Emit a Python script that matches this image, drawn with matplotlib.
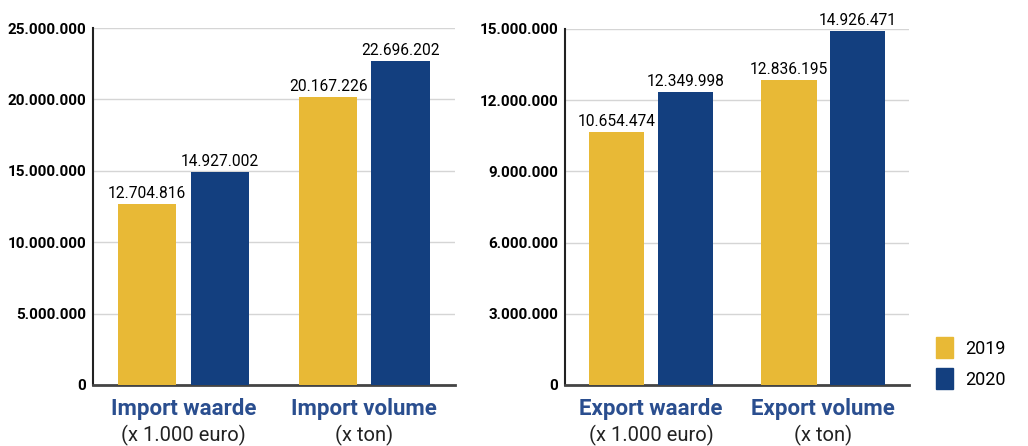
import matplotlib
matplotlib.use('Agg')
from matplotlib import pyplot as plt
from matplotlib.patches import Patch
import numpy as np

# data
import_cats = ['Import waarde', 'Import volume']
export_cats = ['Export waarde', 'Export volume']
units = ['(x 1.000 euro)', '(x ton)']
import_2019 = [12704816, 20167226]
import_2020 = [14927002, 22696202]
export_2019 = [10654474, 12836195]
export_2020 = [12349998, 14926471]
years = ['2019', '2020']

yellow = '#E8B936'
blue = '#133F7F'
label_blue = '#2A4E8F'

plt.rcParams['font.family'] = ['Roboto', 'DejaVu Sans']


def fmt(v):
    return '{:,}'.format(int(v)).replace(',', '.')


def draw_panel(ax, cats, v19, v20, ymax, step):
    x = np.arange(len(cats))
    w = 0.322
    ax.bar(x - 0.2, v19, w, color=yellow, zorder=3)
    ax.bar(x + 0.2, v20, w, color=blue, zorder=3)
    for xi, a, b in zip(x, v19, v20):
        ax.text(xi - 0.2, a + ymax * 0.008, fmt(a), ha='center', va='bottom', fontsize=11.2)
        ax.text(xi + 0.2, b + ymax * 0.008, fmt(b), ha='center', va='bottom', fontsize=11.2)
    ax.set_ylim(0, ymax)
    ax.set_xlim(-0.5, 1.5)
    ticks = np.arange(0, ymax + 1, step)
    ax.set_yticks(ticks)
    ax.set_yticklabels([fmt(t) for t in ticks], fontsize=11, fontweight='bold')
    ax.tick_params(axis='y', length=0, pad=5)
    ax.set_xticks([])
    ax.grid(axis='y', color='#D5D5D5', linewidth=1, zorder=0)
    for s in ['top', 'right']:
        ax.spines[s].set_visible(False)
    ax.spines['left'].set_color('#222222')
    ax.spines['left'].set_linewidth(1.5)
    ax.spines['bottom'].set_color('#444444')
    ax.spines['bottom'].set_linewidth(2)
    tr = ax.get_xaxis_transform()
    for xi, c, u in zip(x, cats, units):
        ax.text(xi, -0.038, c, transform=tr, ha='center', va='top', fontsize=16,
                fontweight='bold', color=label_blue)
        ax.text(xi, -0.112, u, transform=tr, ha='center', va='top', fontsize=14.5,
                color='#222222')


fig = plt.figure(figsize=(10.28, 4.46), dpi=100)
ax1 = fig.add_axes([0.0905, 0.137, 0.352, 0.800])
ax2 = fig.add_axes([0.5496, 0.137, 0.335, 0.798])

draw_panel(ax1, import_cats, import_2019, import_2020, 25000000, 5000000)
draw_panel(ax2, export_cats, export_2019, export_2020, 15000000, 3000000)

# legend
handles = [Patch(color=yellow), Patch(color=blue)]
fig.legend(handles, years, loc='upper left', bbox_to_anchor=(0.895, 0.28), frameon=False,
           fontsize=13, handlelength=0.9, handleheight=1.4, labelspacing=0.55, handletextpad=0.7)

plt.savefig('out.png', dpi=100)
